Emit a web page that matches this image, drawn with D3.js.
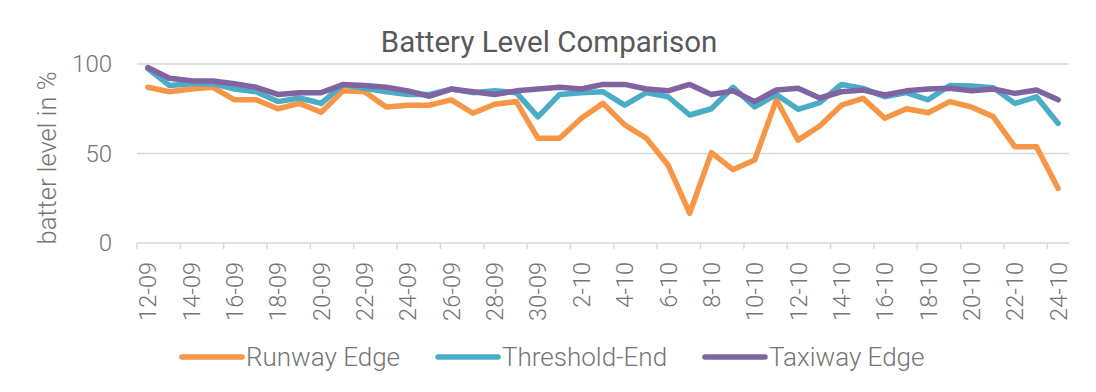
<!DOCTYPE html>
<html><head><meta charset="utf-8">
<script src="https://cdn.jsdelivr.net/npm/d3@7"></script>
<style>body{margin:0;background:#fff}svg{display:block}</style>
</head><body><svg id="c" width="1096" height="392"></svg>
<script>
const categories = ["12-09","13-09","14-09","15-09","16-09","17-09","18-09","19-09","20-09","21-09","22-09","23-09","24-09","25-09","26-09","27-09","28-09","29-09","30-09","1-10","2-10","3-10","4-10","5-10","6-10","7-10","8-10","9-10","10-10","11-10","12-10","13-10","14-10","15-10","16-10","17-10","18-10","19-10","20-10","21-10","22-10","23-10","24-10"];
const runwayEdge = [87,84.5,86,87,80,80,75,78,73,85,84.5,76,77,77,80,72.5,77.5,79,58.5,58.5,69.7,78,66,58.5,43.6,16.6,50.5,41,46.4,80,57.5,65.4,77,80.8,69.7,75,72.8,79,76,70.6,53.8,53.8,30.5];
const thresholdEnd = [97.5,88,89,89,86,84.5,79,81,78,88.5,86.4,84.5,83,83,86,84,85,84,70.5,83,84,84.5,77,84,81.7,71.5,75,87,76,83,74.7,78.4,88.6,86.4,81.7,84,80,88,87.7,86.8,78,81.7,66.8];
const taxiwayEdge = [98,92,90.7,90.5,89,87,83,84,84,88.5,88,87,85,82,86,84.5,83,85,86,87,86,88.6,88.6,86,85,88.6,83,85,79,85.5,86.4,81,84.5,85.5,82.7,85,86,86.4,85,86,83.6,85.5,80];
const seriesNames = ["Runway Edge","Threshold-End","Taxiway Edge"];
const seriesColors = ["#F79646","#4BACC6","#8064A2"];
const yTicks = [0,50,100];

const FONT = "Roboto";
const svg = d3.select("#c");
const L = 137, R = 1069, T = 64, B = 243;
const x = d3.scaleBand().domain(categories).range([L, R]).padding(0);
const y = d3.scaleLinear().domain([0,100]).range([B, T]);
const cx = d => x(d) + x.bandwidth()/2;

// gridlines
svg.append("g").selectAll("line").data(yTicks.filter(t=>t>0)).join("line")
  .attr("x1", L).attr("x2", R).attr("y1", d=>y(d)).attr("y2", d=>y(d))
  .attr("stroke", "#d9d9d9").attr("stroke-width", 1.5);

// y axis labels
const yAxis = d3.axisLeft(y).tickValues(yTicks).tickSize(0).tickPadding(25);
const gy = svg.append("g").attr("transform", `translate(${L},0)`).call(yAxis);
gy.select(".domain").remove();
gy.selectAll("text").attr("font-family",FONT).attr("font-weight",300).attr("font-size", 24).attr("fill","#757575");

// x axis
const tickCats = categories.filter((d,i)=>i%2===0);
const gx = svg.append("g").attr("transform", `translate(0,${B})`);
gx.append("line").attr("x1", L).attr("x2", R).attr("stroke","#d9d9d9").attr("stroke-width",1.5);
gx.selectAll("line.tk").data(tickCats).join("line").attr("class","tk")
  .attr("x1", d=>x(d)).attr("x2", d=>x(d)).attr("y1",0).attr("y2",6)
  .attr("stroke","#d9d9d9").attr("stroke-width",1.5);
gx.selectAll("text").data(tickCats).join("text")
  .attr("transform", d=>`translate(${cx(d)+8.5},19) rotate(-90)`)
  .attr("text-anchor","end")
  .attr("font-family",FONT).attr("font-weight",300).attr("font-size",23.5).attr("fill","#757575")
  .text(d=>d);

// lines
const all = [runwayEdge, thresholdEnd, taxiwayEdge];
const line = d3.line().x((d,i)=>cx(categories[i])).y(d=>y(d));
all.forEach((s,k)=>{
  svg.append("path").datum(s).attr("d", line).attr("fill","none")
    .attr("stroke", seriesColors[k]).attr("stroke-width",5.5)
    .attr("stroke-linejoin","round").attr("stroke-linecap","round");
});

// title
svg.append("text").attr("x", 549).attr("y", 52).attr("text-anchor","middle")
  .attr("font-family",FONT).attr("font-weight",400).attr("font-size",29.5).attr("fill","#595959")
  .text("Battery Level Comparison");

// y label
svg.append("text").attr("transform","translate(56,158) rotate(-90)").attr("text-anchor","middle")
  .attr("font-family",FONT).attr("font-weight",300).attr("font-size",25.5).attr("fill","#757575")
  .text("batter level in %");

// legend
const legX = [182, 438, 705];
const lg = svg.append("g").selectAll("g").data(seriesNames).join("g")
  .attr("transform",(d,i)=>`translate(${legX[i]},357)`);
lg.append("line").attr("x1",0).attr("x2",60).attr("stroke",(d,i)=>seriesColors[i])
  .attr("stroke-width",5.5).attr("stroke-linecap","round");
lg.append("text").attr("x",64).attr("y",8.5).attr("font-family",FONT).attr("font-weight",300).attr("font-size",26)
  .attr("fill","#757575").text(d=>d);
</script></body></html>
